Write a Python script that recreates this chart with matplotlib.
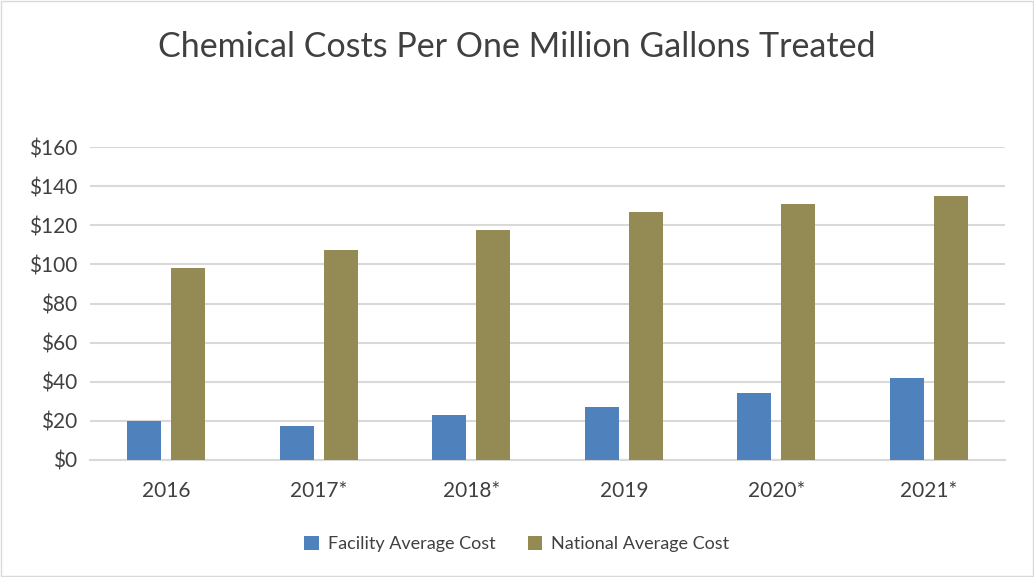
"""
Chemical costs per one million gallons treated
"""
import numpy as np
import matplotlib.pyplot as plt
from matplotlib.patches import Rectangle

years = ['2016', '2017*', '2018*', '2019', '2020*', '2021*']
facility_cost = [20, 17.5, 23, 27, 34, 42]
national_cost = [98.3, 107.5, 117.7, 127, 131, 135]
y_ticks = [0, 20, 40, 60, 80, 100, 120, 140, 160]

plt.rcParams['font.family'] = ['Lato', 'DejaVu Sans']
text_color = '#404040'

fig = plt.figure(figsize=(10.34, 5.77), dpi=100)
ax = fig.add_axes([0.087, 0.203, 0.885, 0.542])

x = np.arange(len(years))
width = 0.223
gap = 0.066
ax.bar(x - (width + gap) / 2, facility_cost, width, color='#4F81BD',
       label='Facility Average Cost', zorder=3)
ax.bar(x + (width + gap) / 2, national_cost, width, color='#948A54',
       label='National Average Cost', zorder=3)

ax.set_xlim(-0.5, len(years) - 0.5)
ax.set_ylim(0, 160)
ax.set_yticks(y_ticks)
ax.set_yticklabels([f'${v}' for v in y_ticks])
ax.set_xticks(x)
ax.set_xticklabels(years)
ax.tick_params(axis='both', length=0, labelsize=15, colors=text_color)
ax.tick_params(axis='x', pad=15)
ax.tick_params(axis='y', pad=9)
ax.grid(axis='y', color='#D9D9D9', linewidth=1.5, zorder=0)
for side in ['top', 'right', 'left']:
    ax.spines[side].set_visible(False)
ax.spines['bottom'].set_color('#D9D9D9')
ax.spines['bottom'].set_linewidth(1.5)

fig.text(0.5, 0.918, 'Chemical Costs Per One Million Gallons Treated',
         ha='center', va='center', fontsize=24.5, color=text_color)

fig.legend(loc='center', bbox_to_anchor=(0.5, 1 - 544 / 577), ncol=2,
           frameon=False, fontsize=13, labelcolor=text_color,
           handlelength=0.8, handleheight=0.8, handletextpad=0.5,
           columnspacing=1.8)

# thin border around the whole chart
fig.patches.append(Rectangle((0.001, 0.001), 0.998, 0.997, transform=fig.transFigure,
                             fill=False, edgecolor='#D9D9D9', linewidth=1))

plt.savefig('out.png', dpi=100)
plt.close()
